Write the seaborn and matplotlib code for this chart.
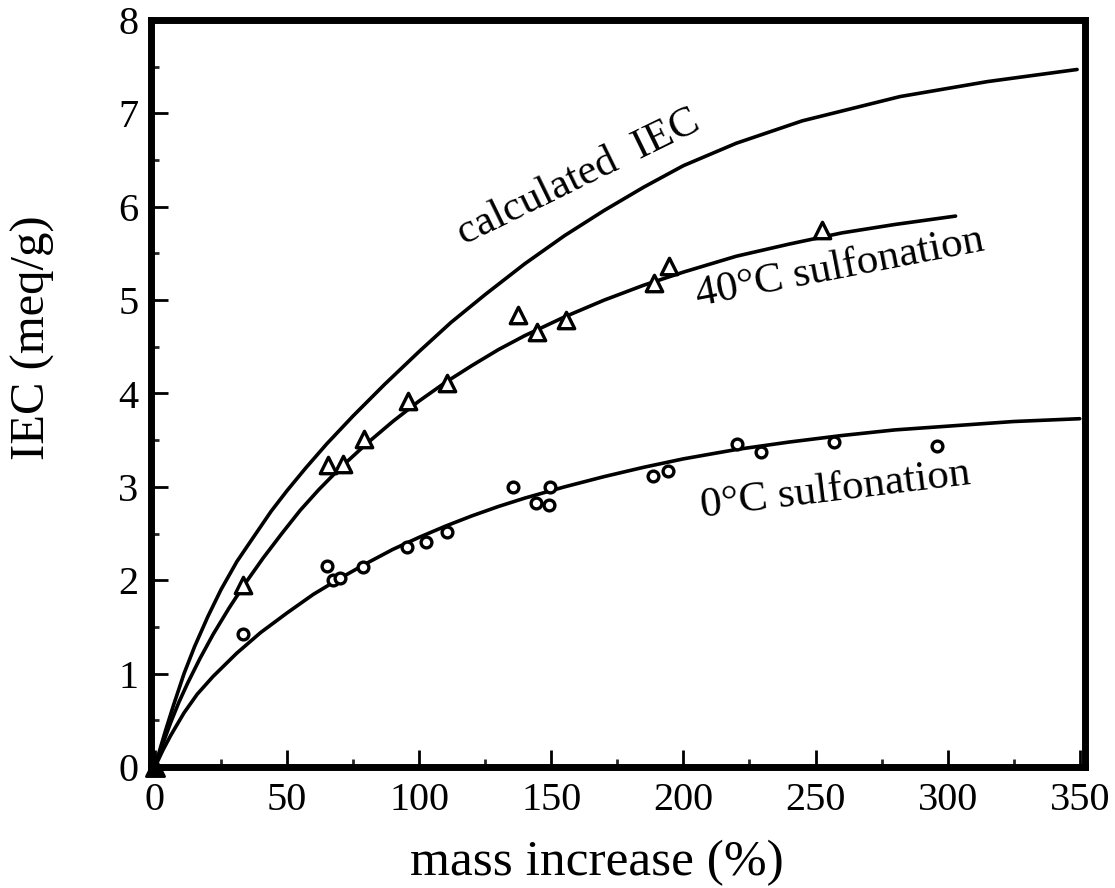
import matplotlib
matplotlib.use("Agg")
import matplotlib.pyplot as plt
import seaborn as sns
from matplotlib.ticker import MultipleLocator

# ---- data ----
calc_x = [0, 2, 4, 7, 11, 15, 20, 25, 31, 37, 44, 50, 57, 65, 75, 87, 100, 112, 125,
          140, 155, 170, 185, 200, 220, 245, 282, 315, 349]
calc_y = [0, 0.2, 0.39, 0.66, 1.0, 1.29, 1.61, 1.9, 2.2, 2.45, 2.74, 2.96, 3.2, 3.46, 3.76,
          4.1, 4.45, 4.76, 5.06, 5.39, 5.69, 5.96, 6.21, 6.44, 6.68, 6.92, 7.18, 7.34, 7.47]

fit40_x = [0, 3, 6, 9, 12.4, 17, 22, 28, 34, 41, 48, 55, 62, 70, 80, 90, 100, 110, 120,
           130, 140, 155, 170, 185, 200, 220, 240, 260, 280, 303]
fit40_y = [0, 0.25, 0.48, 0.69, 0.9, 1.16, 1.42, 1.7, 1.96, 2.24, 2.5, 2.75, 2.97, 3.2,
           3.46, 3.7, 3.92, 4.12, 4.3, 4.47, 4.62, 4.82, 5.0, 5.16, 5.3, 5.47, 5.6, 5.72,
           5.81, 5.9]

fit0_x = [0, 3, 6, 11, 16, 22, 31, 40, 50, 60, 70, 80, 90, 100, 110, 120, 130, 140, 155,
          170, 185, 200, 220, 240, 260, 280, 300, 325, 350]
fit0_y = [0, 0.18, 0.34, 0.58, 0.78, 0.97, 1.22, 1.44, 1.65, 1.85, 2.02, 2.18, 2.33, 2.46,
          2.58, 2.69, 2.79, 2.88, 3.0, 3.11, 3.21, 3.3, 3.4, 3.48, 3.55, 3.61, 3.65, 3.7, 3.73]

tri_x = [33.5, 65.5, 71, 79.3, 95.9, 110.5, 137.4, 144.5, 155.5, 188.7, 194.7, 252.4]
tri_y = [1.95, 3.23, 3.25, 3.51, 3.92, 4.11, 4.84, 4.66, 4.79, 5.18, 5.37, 5.75]
origin_x = [0]
origin_y = [0]

circ_x = [33.3, 65.3, 67.5, 70, 78.9, 95.5, 102.4, 110.5, 135.5, 144.3, 149.3, 149.5,
          188.4, 194.3, 220.2, 229.3, 257, 295.8]
circ_y = [1.42, 2.15, 2.0, 2.02, 2.14, 2.36, 2.41, 2.52, 3.0, 2.83, 2.81, 3.0,
          3.12, 3.17, 3.46, 3.37, 3.48, 3.44]

x_ticks = [0, 50, 100, 150, 200, 250, 300, 350]
y_ticks = [0, 1, 2, 3, 4, 5, 6, 7, 8]

sns.set_theme(style="ticks")
plt.rcParams['font.family'] = ['Liberation Serif', 'DejaVu Serif']

fig = plt.figure(figsize=(11.15, 8.88), dpi=100)
ax = fig.add_axes([151/1115, 1 - 767/888, (1085-151)/1115, (767-20)/888])

lw = 2.6
sns.lineplot(x=calc_x, y=calc_y, ax=ax, color='black', linewidth=lw, sort=False)
sns.lineplot(x=fit40_x, y=fit40_y, ax=ax, color='black', linewidth=lw, sort=False)
sns.lineplot(x=fit0_x, y=fit0_y, ax=ax, color='black', linewidth=lw, sort=False)

sns.scatterplot(x=tri_x, y=tri_y, ax=ax, marker='^', s=140, facecolor='white',
                edgecolor='black', linewidth=2.4, zorder=5)
sns.scatterplot(x=circ_x, y=circ_y, ax=ax, marker='o', s=60, facecolor='white',
                edgecolor='black', linewidth=2.4, zorder=5)
sns.scatterplot(x=origin_x, y=origin_y, ax=ax, marker='^', s=170, facecolor='black',
                edgecolor='black', linewidth=2, zorder=6, clip_on=False)

ax.set_xlim(-1.5, 352)
ax.set_ylim(0, 8)
ax.set_xticks(x_ticks)
ax.set_yticks(y_ticks)
ax.xaxis.set_minor_locator(MultipleLocator(25))
ax.yaxis.set_minor_locator(MultipleLocator(0.5))

for s in ax.spines.values():
    s.set_linewidth(5)
    s.set_color('black')

ax.tick_params(axis='both', which='major', direction='in', length=12, width=2,
               labelsize=29, colors='black')
ax.tick_params(axis='both', which='minor', direction='in', length=6, width=2)
ax.tick_params(axis='x', which='major', pad=11)
ax.tick_params(axis='y', which='major', pad=9)
ax.tick_params(top=False, right=False, which='both')

ax.set_xlabel('mass increase (%)', fontsize=37, color='black')
ax.set_ylabel('IEC (meq/g)', fontsize=35, color='black')
ax.xaxis.set_label_coords(0.477, -0.097)
ax.yaxis.set_label_coords(-0.103, 0.575)

ax.text(117.1, 5.59, 'calculated  IEC', fontsize=31, rotation=26,
        rotation_mode='anchor', ha='left', va='baseline', color='black')
ax.text(205.5, 4.94, '40°C sulfonation', fontsize=31, rotation=11,
        rotation_mode='anchor', ha='left', va='baseline', color='black')
ax.text(207, 2.68, '0°C sulfonation', fontsize=31, rotation=7,
        rotation_mode='anchor', ha='left', va='baseline', color='black')

ax.grid(False)
fig.savefig('out.png', dpi=100, facecolor='white')
